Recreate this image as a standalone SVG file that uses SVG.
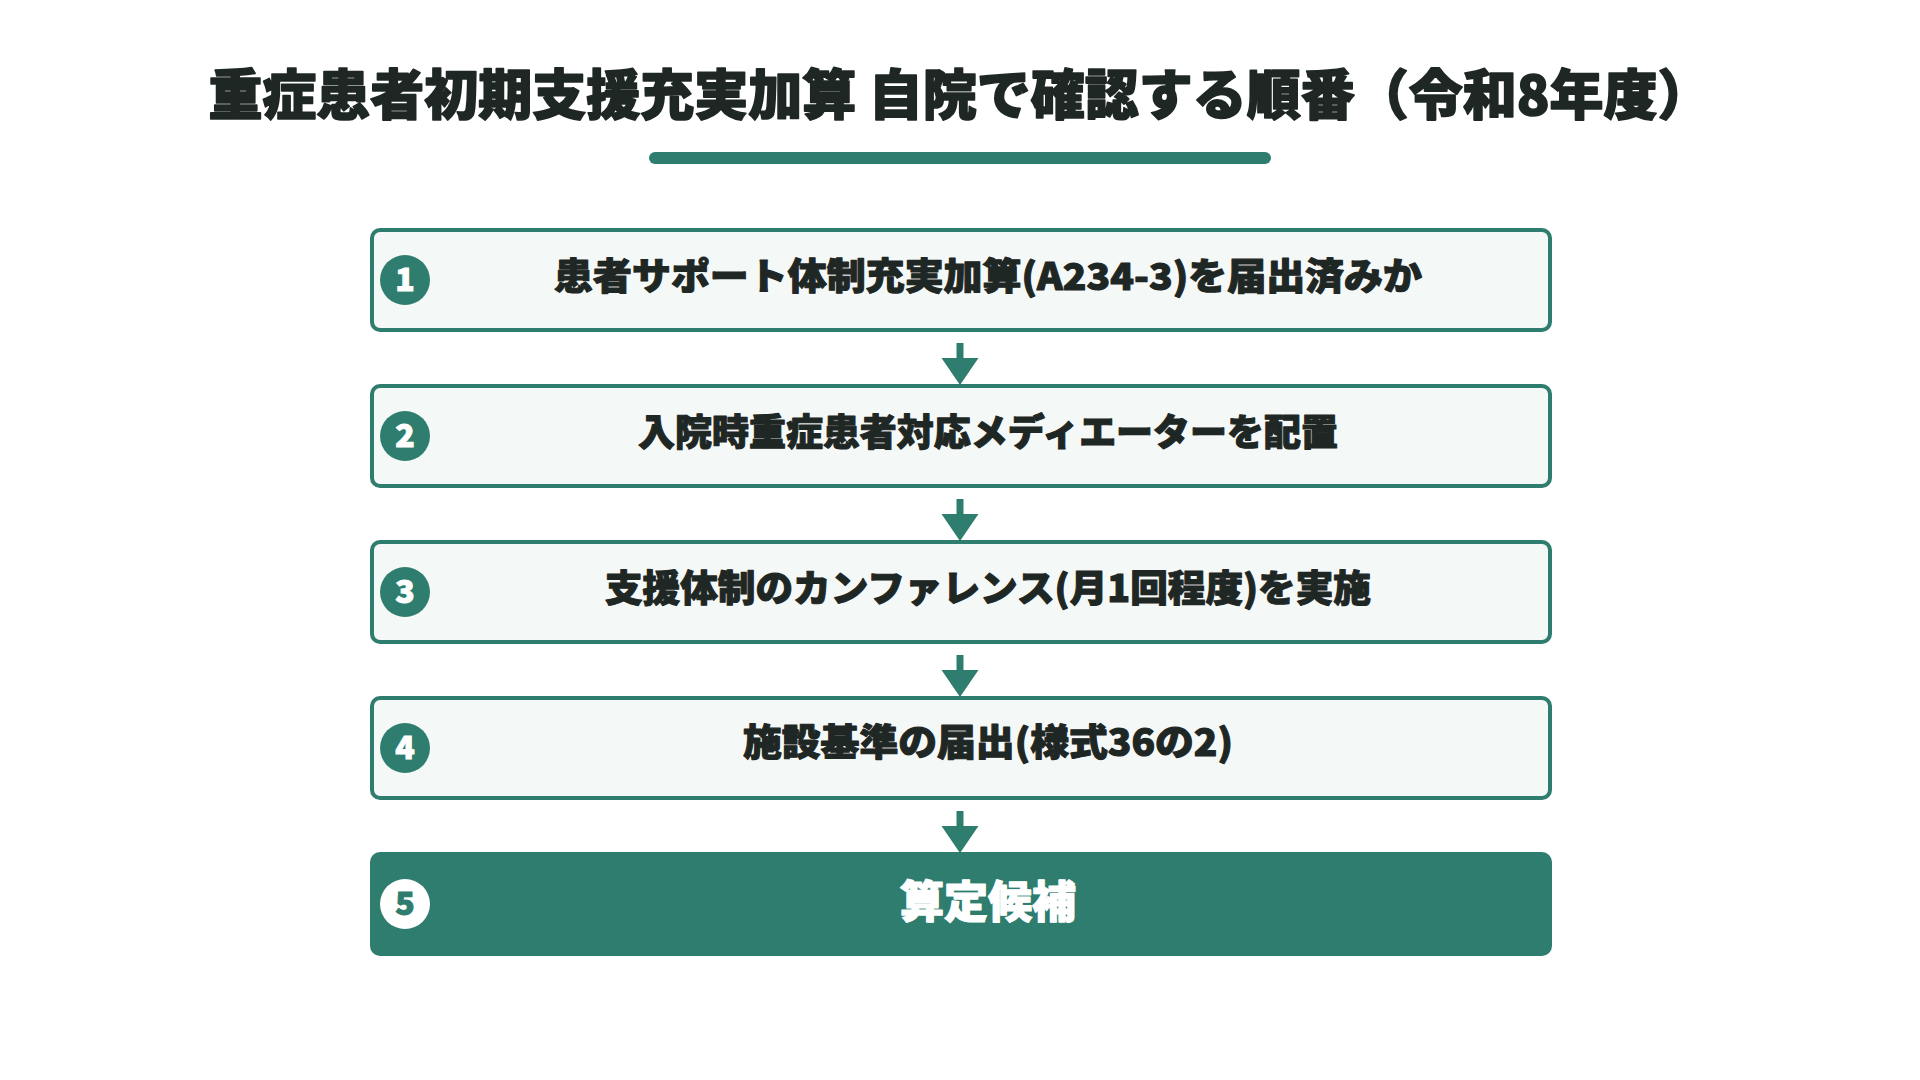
<svg xmlns="http://www.w3.org/2000/svg" width="1920" height="1080" viewBox="0 0 1920 1080">
<defs>
<style>
.title{font-family:"Noto Sans CJK JP","Noto Sans",sans-serif;font-weight:900;font-size:54px;fill:#1f2725;stroke:#1f2725;stroke-width:1.6px;stroke-linejoin:round;text-anchor:middle}
.box{fill:#f4f8f7;stroke:#2e7d6e;stroke-width:4}
.box5{fill:#2e7d6e;stroke:#2e7d6e;stroke-width:4}
.lbl{font-family:"Noto Sans CJK JP","Noto Sans",sans-serif;font-weight:900;font-size:37px;fill:#1f2725;stroke:#1f2725;stroke-width:1.1px;stroke-linejoin:round;text-anchor:middle}
.lbl5{font-family:"Noto Sans CJK JP","Noto Sans",sans-serif;font-weight:900;font-size:44px;fill:#ffffff;stroke:#ffffff;stroke-width:1.2px;stroke-linejoin:round;text-anchor:middle}
.badge{fill:#2e7d6e}
.badge5{fill:#ffffff}
.num{font-family:"Noto Sans CJK JP","Noto Sans",sans-serif;font-weight:900;font-size:32px;fill:#ffffff;stroke:#ffffff;stroke-width:1px;text-anchor:middle}
.num5{font-family:"Noto Sans CJK JP","Noto Sans",sans-serif;font-weight:900;font-size:32px;fill:#2e7d6e;stroke:#2e7d6e;stroke-width:1px;text-anchor:middle}
.shaft{stroke:#2e7d6e;stroke-width:7;fill:none}
.head{fill:#2e7d6e}
</style>
</defs>
<rect width="1920" height="1080" fill="#ffffff"/>
<g id="title">
<text class="title" x="960" y="115">重症患者初期支援充実加算 自院で確認する順番（令和8年度）</text>
<rect x="649" y="152" width="622" height="12" rx="6" fill="#2e7d6e"/>
</g>
<g id="connectors">
<line class="shaft" x1="960" y1="343" x2="960" y2="360"/>
<polygon class="head" points="941.5,358 978.5,358 960,385"/>
<line class="shaft" x1="960" y1="499" x2="960" y2="516"/>
<polygon class="head" points="941.5,514 978.5,514 960,541"/>
<line class="shaft" x1="960" y1="655" x2="960" y2="672"/>
<polygon class="head" points="941.5,670 978.5,670 960,697"/>
<line class="shaft" x1="960" y1="811" x2="960" y2="828"/>
<polygon class="head" points="941.5,826 978.5,826 960,853"/>
</g>
<g id="step1">
<rect class="box" x="372" y="230" width="1178" height="100" rx="8"/>
<circle class="badge" cx="405" cy="280" r="25"/>
<text class="num" x="405" y="291">1</text>
<text class="lbl" x="988" y="290" textLength="868" lengthAdjust="spacingAndGlyphs">患者サポート体制充実加算(A234-3)を届出済みか</text>
</g>
<g id="step2">
<rect class="box" x="372" y="386" width="1178" height="100" rx="8"/>
<circle class="badge" cx="405" cy="436" r="25"/>
<text class="num" x="405" y="447">2</text>
<text class="lbl" x="988" y="446" textLength="700" lengthAdjust="spacingAndGlyphs">入院時重症患者対応メディエーターを配置</text>
</g>
<g id="step3">
<rect class="box" x="372" y="542" width="1178" height="100" rx="8"/>
<circle class="badge" cx="405" cy="592" r="25"/>
<text class="num" x="405" y="603">3</text>
<text class="lbl" x="988" y="602" textLength="766" lengthAdjust="spacingAndGlyphs">支援体制のカンファレンス(月1回程度)を実施</text>
</g>
<g id="step4">
<rect class="box" x="372" y="698" width="1178" height="100" rx="8"/>
<circle class="badge" cx="405" cy="748" r="25"/>
<text class="num" x="405" y="759">4</text>
<text class="lbl" x="988" y="756" textLength="490" lengthAdjust="spacingAndGlyphs">施設基準の届出(様式36の2)</text>
</g>
<g id="step5">
<rect class="box5" x="372" y="854" width="1178" height="100" rx="8"/>
<circle class="badge5" cx="405" cy="904" r="25"/>
<text class="num5" x="405" y="915">5</text>
<text class="lbl5" x="988" y="918">算定候補</text>
</g>
</svg>
